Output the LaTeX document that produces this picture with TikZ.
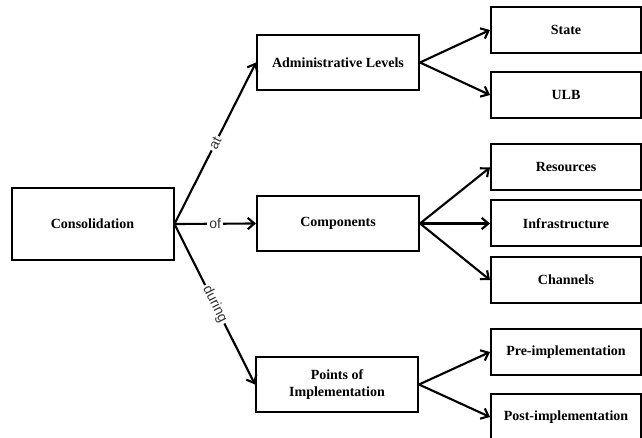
\documentclass[tikz,border=0pt]{standalone}
\usepackage{fontspec}
\setmainfont{Liberation Serif}
\setsansfont{Liberation Sans}
\usetikzlibrary{arrows.meta}

\begin{document}
\begin{tikzpicture}[->,>={Straight Barb[length=5pt,width=8.5pt]},x=0.75pt,y=-0.75pt,
  line width=1.6pt,
  main node/.style={rectangle,draw,line width=1.5pt,align=center,
  font=\bfseries\fontsize{10.5}{13}\selectfont,
  minimum width=121.5pt,minimum height=41.25pt,inner sep=2pt},
  leaf node/.style={main node,minimum width=112.5pt,minimum height=34.5pt}]

  \useasboundingbox (0,0) rectangle (642,438);

  \node[main node, minimum height=54pt] (C) at (92.5,224) {Consolidation};
  \node[main node] (AL) at (338,62.5) {Administrative Levels};
  \node[main node] (CO) at (338,223.5) {Components};
  \node[main node] (PI) at (337,384.5) {Points of\\Implementation};

  \node[leaf node] (ST) at (566,30) {State};
  \node[leaf node] (ULB) at (566,95) {ULB};
  \node[leaf node] (RE) at (566,167.5) {Resources};
  \node[leaf node] (IN) at (566,223.5) {Infrastructure};
  \node[leaf node] (CH) at (566,280) {Channels};
  \node[leaf node] (PRE) at (566,352) {Pre-implementation};
  \node[leaf node] (POST) at (566,417) {Post-implementation};

  \path[every node/.style={font=\sffamily\fontsize{10.5}{12}\selectfont,
  		fill=white,text=black!80,inner sep=1.5pt}]
    % labelled arrows out of the root
    (C.east) edge node[sloped] {at} (AL.west)
      edge node {of} (CO.west)
      edge node[sloped] {during} (PI.west);

  \path
    (AL.east) edge (ST.west)
      edge (ULB.west)
    (CO.east) edge (RE.west)
      edge (IN.west)
      edge (CH.west)
    (PI.east) edge (PRE.west)
      edge (POST.west);

\end{tikzpicture}
\end{document}
